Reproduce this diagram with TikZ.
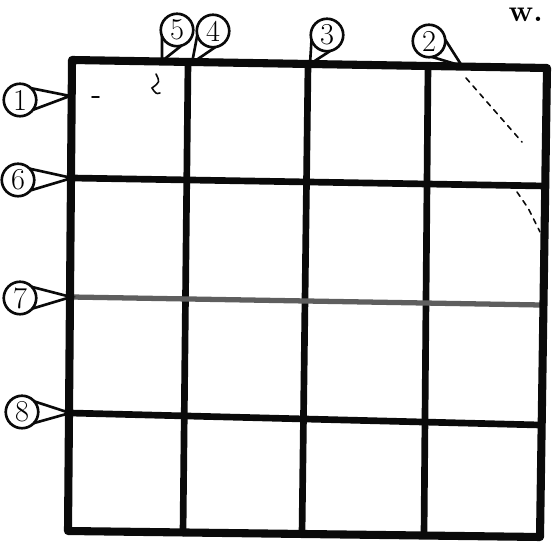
\documentclass[tikz,border=0pt]{standalone}
\usetikzlibrary{positioning,calc}

\definecolor{SketchInk}{HTML}{0A0A0A}
\definecolor{SketchFade}{HTML}{5E5E5E}

\tikzset{
  gridrule/.style={SketchInk,line width=3.8pt,line cap=round,line join=round},
  framerule/.style={SketchInk,line width=4.6pt,line cap=round,line join=round},
  fadedrule/.style={SketchFade,line width=3pt,line cap=round},
  tagmark/.style={circle,draw=SketchInk,line width=1.5pt,inner sep=0pt,
    minimum size=18.5pt,font=\LARGE},
  tagline/.style={SketchInk,line width=1.5pt,line join=miter},
  straymark/.style={SketchInk,line width=0.9pt,line cap=round},
}

\newcommand\tagtail[2]{%
  \draw[tagline] ($(#1.center)!9.25pt!42:(#2)$) -- (#2)
    -- ($(#1.center)!9.25pt!-42:(#2)$);}

\begin{document}
\begin{tikzpicture}[x=0.02cm,y=-0.02cm]
    \useasboundingbox (0,0) rectangle (554,546);

    \coordinate (nw) at (72,60);
    \coordinate (ne) at (547,68);
    \coordinate (se) at (540,537);
    \coordinate (sw) at (68,531);

    \coordinate (c1n) at (188,63);  \coordinate (c1s) at (183,533);
    \coordinate (c2n) at (308,65);  \coordinate (c2s) at (302,534);
    \coordinate (c3n) at (428,66);  \coordinate (c3s) at (424,535);

    \coordinate (r6w) at (72,178);  \coordinate (r6e) at (545,186);
    \coordinate (r7w) at (71,297);  \coordinate (r7e) at (541,305);
    \coordinate (r8w) at (70,413);  \coordinate (r8e) at (540,425);

    \draw[gridrule] (c1n) -- (c1s);
    \draw[gridrule] (c2n) -- (c2s);
    \draw[gridrule] (c3n) -- (c3s);
    \draw[gridrule] (r6w) -- (r6e);
    \draw[fadedrule] (r7w) -- (r7e);
    \draw[gridrule] (r8w) -- (r8e);
    \draw[framerule] (nw) -- (ne) -- (se) -- (sw) -- cycle;

    \node[tagmark] (t1) at (20,100) {1};
    \node[tagmark] (t6) at (18,180) {6};
    \node[tagmark] (t7) at (20,298) {7};
    \node[tagmark] (t8) at (22,412) {8};
    \node[tagmark] (t5) at (177,30) {5};
    \node[tagmark] (t4) at (213,31) {4};
    \node[tagmark] (t3) at (327,35) {3};
    \node[tagmark] (t2) at (429,41) {2};

    \coordinate (p1) at (70,96);
    \coordinate (p6) at (72,178);
    \coordinate (p7) at (71,297);
    \coordinate (p8) at (70,413);
    \coordinate (p5) at (162,61);
    \coordinate (p4) at (192,63);
    \coordinate (p3) at (310,64);
    \coordinate (p2) at (462,66);

    \tagtail{t1}{p1}
    \tagtail{t6}{p6}
    \tagtail{t7}{p7}
    \tagtail{t8}{p8}
    \tagtail{t5}{p5}
    \tagtail{t4}{p4}
    \tagtail{t3}{p3}
    \tagtail{t2}{p2}

    \draw[straymark] (92,97) -- (99,97);
    \draw[straymark] (156,74) .. controls (160,82) .. (152,88) .. controls (156,94) .. (160,93);
    \draw[straymark,dashed] (466,78) -- (522,142);
    \draw[straymark,dashed] (517,192) -- (528,208) -- (540,232);

    \node[anchor=base east,font=\bfseries\LARGE] (tw) at (549,22) {w.};
  \end{tikzpicture}
\end{document}
